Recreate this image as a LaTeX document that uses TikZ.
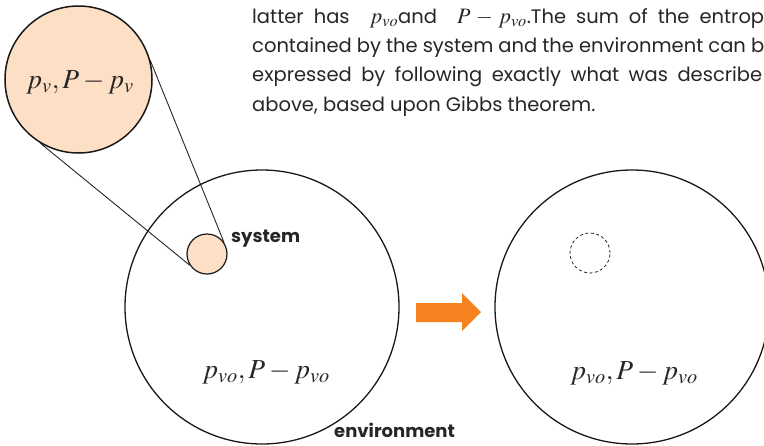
\documentclass[tikz,border=0pt]{standalone}
\usepackage{mathptmx}
\usepackage[no-math]{fontspec}
\setmainfont{Poppins}
\definecolor{peach}{HTML}{FDDFC6}
\definecolor{arroworange}{HTML}{F5821F}
\newcommand{\paratext}{\fontsize{19.5}{30}\selectfont}
\newcommand{\paramath}[1]{{\fontsize{22}{30}\selectfont$#1$}}
\newcommand{\mathbig}{\fontsize{27.5}{30}\selectfont}
\newcommand{\labeltext}{\bfseries\fontsize{18}{21}\selectfont}
\begin{document}
\begin{tikzpicture}[x=1pt,y=-1pt,
  ring/.style={circle,draw=black!90,line width=1.3pt,inner sep=0pt},
  zoomline/.style={draw=black!85,line width=0.9pt},
  paraline/.style={anchor=base west,inner sep=0pt,font=\paratext,text=black!85},
  mathlabel/.style={inner sep=0pt,font=\mathbig,text=black!85},
  boldlabel/.style={anchor=west,inner sep=0pt,font=\labeltext,text=black!85}]
\useasboundingbox (0,0) rectangle (764,445);
\clip (0,0) rectangle (764,445);
\fill[white] (0,0) rectangle (764,445);

% paragraph
\node[paraline] (p1) at (252,23) {\makebox[512pt][s]{latter has\ \ \paramath{p_{vo}}and\ \ \paramath{P-p_{vo}}.The sum of the entrop}};
\node[paraline] (p2) at (252,52) {\makebox[512pt][s]{contained by the system and the environment can b}};
\node[paraline] (p3) at (252,81) {\makebox[510pt][s]{expressed by following exactly what was describe}};
\node[paraline] (p4) at (252,111) {above, based upon Gibbs theorem.};

% circles
\node[ring,minimum size=274pt] (envL) at (262,307) {};
\node[ring,minimum size=274pt] (envR) at (632,307) {};
\node[ring,fill=peach,line width=1.5pt,minimum size=147pt] (mag) at (78.5,79.5) {};
\node[ring,fill=peach,line width=1.2pt,minimum size=40pt] (sys) at (207,254) {};
\node[circle,draw=black!85,dashed,dash pattern=on 3pt off 2.5pt,line width=0.8pt,minimum size=40pt,inner sep=0pt] (ghost) at (590,253) {};

% magnifier lines
\draw[zoomline] (mag.15.5) -- (sys.34.5);
\draw[zoomline] (mag.239) -- (sys.213);

% texts
\node[mathlabel] (magtext) at (80,82) {$p_v, P-p_v$};
\node[mathlabel] (envLtext) at (266,372) {$p_{vo}, P-p_{vo}$};
\node[mathlabel] (envRtext) at (634,373) {$p_{vo}, P-p_{vo}$};
\node[boldlabel] (syslabel) at (231,239) {system};
\node[boldlabel] (envlabel) at (334,430) {environment};

% orange arrow
\fill[arroworange] (416,303) -- (462,303) -- (462,293) -- (481,312) -- (462,331) -- (462,322) -- (416,322) -- cycle;
\end{tikzpicture}
\end{document}
